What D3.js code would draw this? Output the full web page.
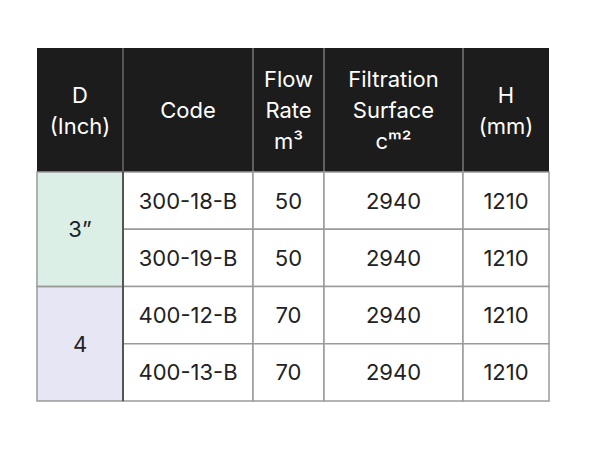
<!DOCTYPE html>
<html><head><meta charset="utf-8">
<script src="https://cdn.jsdelivr.net/npm/d3@7"></script>
<style>body{margin:0;background:#fff;} text{font-family:Inter,"Noto Sans",sans-serif;}</style>
</head><body>
<div id="chart"></div>
<script>
var headers = [["D", "(Inch)"], ["Code"], ["Flow", "Rate", "m³"], ["Filtration", "Surface", "cᵐ²"], ["H", "(mm)"]];
var groups = ["3”", "4"];
var groupColors = ["#dcefe6", "#e6e6f4"];
var codes = ["300-18-B", "300-19-B", "400-12-B", "400-13-B"];
var flowRates = [50, 50, 70, 70];
var surfaces = [2940, 2940, 2940, 2940];
var heights = [1210, 1210, 1210, 1210];

var colEdges = [37, 123, 253, 324, 463, 549];
var topY = 48, headH = 124, rowH = 57.25;

var svg = d3.select("#chart").append("svg").attr("width", 590).attr("height", 459);

var x = d3.scaleOrdinal().domain(d3.range(5)).range(colEdges.slice(0, 5));
var w = i => colEdges[i + 1] - colEdges[i];
var y = d3.scaleLinear().domain([0, codes.length]).range([topY + headH, topY + headH + rowH * codes.length]);

// header
svg.append("rect").attr("x", 37).attr("y", topY).attr("width", 512).attr("height", headH).attr("fill", "#1c1c1c");
headers.forEach(function(lines, i) {
  if (i > 0) svg.append("line").attr("x1", x(i)).attr("x2", x(i)).attr("y1", topY).attr("y2", topY + headH)
    .attr("stroke", "#777").attr("stroke-width", 1.5);
  var cx = x(i) + w(i) / 2, cy = topY + headH / 2 + 8, lh = 31;
  var t = svg.append("text").attr("text-anchor", "middle").attr("fill", "#fff").attr("font-size", 22);
  lines.forEach(function(l, j) {
    t.append("tspan").attr("x", cx).attr("y", cy + (j - (lines.length - 1) / 2) * lh).text(l);
  });
});

// group cells
groups.forEach(function(g, k) {
  svg.append("rect").attr("x", x(0)).attr("y", y(k * 2)).attr("width", w(0)).attr("height", y(2) - y(0))
    .attr("fill", groupColors[k]);
  svg.append("text").attr("x", x(0) + w(0) / 2).attr("y", (y(k * 2) + y(k * 2 + 2)) / 2 + 8)
    .attr("text-anchor", "middle").attr("font-size", 22).attr("fill", "#222").text(g);
});

// body rows
var cols = [codes, flowRates, surfaces, heights];
codes.forEach(function(c, r) {
  cols.forEach(function(arr, ci) {
    var i = ci + 1;
    svg.append("rect").attr("x", x(i)).attr("y", y(r)).attr("width", w(i)).attr("height", rowH)
      .attr("fill", "#fff").attr("stroke", "#9a9a9a").attr("stroke-width", 1.5);
    svg.append("text").attr("x", x(i) + w(i) / 2).attr("y", y(r) + rowH / 2 + 8)
      .attr("text-anchor", "middle").attr("font-size", 22).attr("fill", "#222").text(arr[r]);
  });
});
groups.forEach(function(g, k) {
  svg.append("rect").attr("x", x(0)).attr("y", y(k * 2)).attr("width", w(0)).attr("height", y(2) - y(0))
    .attr("fill", "none").attr("stroke", "#9a9a9a").attr("stroke-width", 1.5);
});
svg.append("line").attr("x1", x(1)).attr("x2", x(1)).attr("y1", topY).attr("y2", y(4)).attr("stroke", "#555").attr("stroke-width", 2);
</script>
</body></html>
